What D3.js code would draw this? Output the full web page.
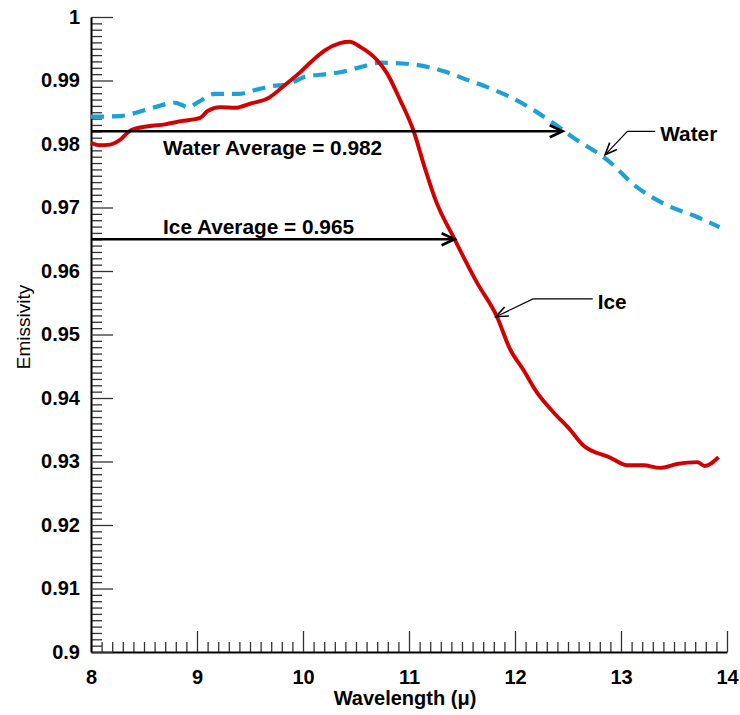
<!DOCTYPE html>
<html><head><meta charset="utf-8">
<script src="https://cdn.jsdelivr.net/npm/d3@7"></script>
<style>
body{margin:0;background:#fff}
svg{display:block}
text{font-family:"Liberation Sans",Arial,sans-serif}
</style>
</head><body>
<svg id="chart" width="740" height="715"></svg>
<script>
// ---- data ----
const iceWavelength = [8.00,8.08,8.18,8.27,8.38,8.54,8.70,8.85,9.03,9.10,9.22,9.36,9.51,9.67,9.83,9.98,10.08,10.21,10.35,10.44,10.54,10.70,10.79,10.92,11.04,11.15,11.25,11.43,11.64,11.83,11.95,12.08,12.21,12.36,12.52,12.64,12.90,13.06,13.21,13.37,13.53,13.72,13.79,13.92];
const iceEmissivity = [0.9802,0.9798,0.9799,0.9806,0.9822,0.9828,0.9831,0.9836,0.9841,0.9852,0.9858,0.9857,0.9864,0.9872,0.9893,0.9914,0.9930,0.9948,0.9959,0.9961,0.9953,0.9932,0.9912,0.9868,0.9822,0.9762,0.9712,0.9650,0.9582,0.9528,0.9478,0.9444,0.9408,0.9378,0.9350,0.9326,0.9306,0.9294,0.9294,0.9290,0.9296,0.9299,0.9293,0.9307];
const waterWavelength = [8.00,8.04,8.28,8.44,8.60,8.79,8.92,9.01,9.17,9.39,9.55,9.70,9.86,10.02,10.16,10.35,10.54,10.73,11.00,11.13,11.36,11.55,11.76,11.98,12.17,12.36,12.55,12.87,13.15,13.43,13.72,13.93];
const waterEmissivity = [0.9843,0.9843,0.9844,0.9850,0.9858,0.9865,0.9858,0.9866,0.9879,0.9879,0.9885,0.9891,0.9894,0.9906,0.9909,0.9913,0.9921,0.9928,0.9926,0.9923,0.9913,0.9901,0.9888,0.9872,0.9854,0.9833,0.9810,0.9775,0.9732,0.9704,0.9685,0.9669];
const xTickValues = [8,9,10,11,12,13,14];
const xTickLabels = ["8","9","10","11","12","13","14"];
const yTickValues = [0.9,0.91,0.92,0.93,0.94,0.95,0.96,0.97,0.98,0.99,1.0];
const yTickLabels = ["0.9","0.91","0.92","0.93","0.94","0.95","0.96","0.97","0.98","0.99","1"];
const averageLabels = ["Water Average = 0.982","Ice Average = 0.965"];
const averageValues = [0.982,0.965];
const averageArrowEnds = [12.45,11.43];
const seriesNames = ["Water","Ice"];
// leader points: [tip, elbow, label anchor]
const leaderWavelengths = [[12.85,13.06,13.37],[11.82,12.17,12.78]];
const leaderEmissivities = [[0.9783,0.9820,0.9805],[0.9528,0.9556,0.9540]];

// ---- scales ----
const svg = d3.select("#chart");
const x = d3.scaleLinear().domain([8,14]).range([91,727]);
const y = d3.scaleLinear().domain([0.9,1]).range([652,17]);

const FONT = 20;
const AFONT = 20.8;
const red = "#d20000", blue = "#1ba1d6";

// minor ticks
const xMinor = d3.range(80,141).map(v=>v/10).filter(v=>Math.abs(v-Math.round(v))>1e-6);
const yMinor = d3.range(900,1001).map(v=>v/1000).filter(v=>Math.abs(v*100-Math.round(v*100))>1e-6);

const gx = svg.append("g").attr("transform",`translate(0,${y(0.9)})`);
gx.append("g").call(d3.axisBottom(x).tickValues(xMinor).tickSize(-10).tickFormat(""))
  .call(g=>g.select(".domain").remove());
gx.append("g").call(d3.axisBottom(x).tickValues(xTickValues).tickSizeInner(-21).tickSizeOuter(0).tickPadding(18)
  .tickFormat((d,i)=>xTickLabels[i]))
  .call(g=>g.selectAll("text").attr("font-size",FONT).attr("font-weight","bold").attr("fill","#000").attr("font-family",'"Liberation Sans",Arial,sans-serif'))
  .call(g=>g.select(".domain").attr("stroke-width",2).attr("stroke","#000"));
gx.selectAll(".tick line").attr("stroke","#333").attr("stroke-width",1.3);

const gy = svg.append("g").attr("transform",`translate(${x(8)},0)`);
gy.append("g").call(d3.axisLeft(y).tickValues(yMinor).tickSize(-11).tickFormat(""))
  .call(g=>g.select(".domain").remove());
gy.append("g").call(d3.axisLeft(y).tickValues(yTickValues).tickSizeInner(-22).tickSizeOuter(0).tickPadding(11)
  .tickFormat((d,i)=>yTickLabels[i]))
  .call(g=>g.selectAll("text").attr("font-size",FONT).attr("font-weight","bold").attr("fill","#000").attr("font-family",'"Liberation Sans",Arial,sans-serif'))
  .call(g=>g.select(".domain").attr("stroke-width",2).attr("stroke","#000"));
gy.selectAll(".tick line").attr("stroke","#333").attr("stroke-width",1.3);

// axis titles
svg.append("text").attr("x",405).attr("y",705).attr("text-anchor","middle")
  .attr("font-size",FONT).attr("font-weight","bold").text("Wavelength (μ)");
svg.append("text").attr("transform","translate(30,327) rotate(-90)").attr("text-anchor","middle")
  .attr("font-size",19).text("Emissivity");

// lines
const line = d3.line().x(d=>x(d[0])).y(d=>y(d[1])).curve(d3.curveMonotoneX);
const water = waterWavelength.map((w,i)=>[w,waterEmissivity[i]]);
const ice = iceWavelength.map((w,i)=>[w,iceEmissivity[i]]);
svg.append("path").datum(water).attr("d",line).attr("fill","none").attr("stroke",blue)
  .attr("stroke-width",4.2).attr("stroke-dasharray","13,8");
svg.append("path").datum(ice).attr("d",line).attr("fill","none").attr("stroke",red)
  .attr("stroke-width",3.9).attr("stroke-linejoin","round");

function arrowHead(g, tx, ty, fx, fy, len, half, sw){
  const a = Math.atan2(ty-fy, tx-fx);
  const p1=[tx-len*Math.cos(a)+half*Math.sin(a), ty-len*Math.sin(a)-half*Math.cos(a)];
  const p2=[tx-len*Math.cos(a)-half*Math.sin(a), ty-len*Math.sin(a)+half*Math.cos(a)];
  g.append("path").attr("d",`M${p1}L${tx},${ty}L${p2}`).attr("fill","none").attr("stroke","#000")
    .attr("stroke-width",sw).attr("stroke-linejoin","miter");
}

// average arrows
averageValues.forEach((v,i)=>{
  const yy = y(v), x1 = x(8), x2 = x(averageArrowEnds[i]);
  svg.append("line").attr("x1",x1).attr("x2",x2-1).attr("y1",yy).attr("y2",yy)
    .attr("stroke","#000").attr("stroke-width",2.4);
  arrowHead(svg, x2, yy, x1, yy, 13, 6, 2.6);
});
svg.append("text").attr("x",x(8.68)).attr("y",y(averageValues[0])+24).attr("font-size",AFONT)
  .attr("font-weight","bold").text(averageLabels[0]);
svg.append("text").attr("x",x(8.68)).attr("y",y(averageValues[1])-5).attr("font-size",AFONT)
  .attr("font-weight","bold").text(averageLabels[1]);

// leaders
seriesNames.forEach((name,i)=>{
  const w = leaderWavelengths[i], e = leaderEmissivities[i];
  const tip=[x(w[0]),y(e[0])], elbow=[x(w[1]),y(e[1])], lab=[x(w[2]),y(e[2])];
  svg.append("path").attr("d",`M${lab[0]-5},${elbow[1]}L${elbow}L${tip}`).attr("fill","none")
    .attr("stroke","#000").attr("stroke-width",1.2);
  arrowHead(svg, tip[0], tip[1], elbow[0], elbow[1], 12, 5, 1.6);
  svg.append("text").attr("x",lab[0]).attr("y",lab[1]).attr("font-size",AFONT).attr("font-weight","bold").text(name);
});
</script>
</body></html>
